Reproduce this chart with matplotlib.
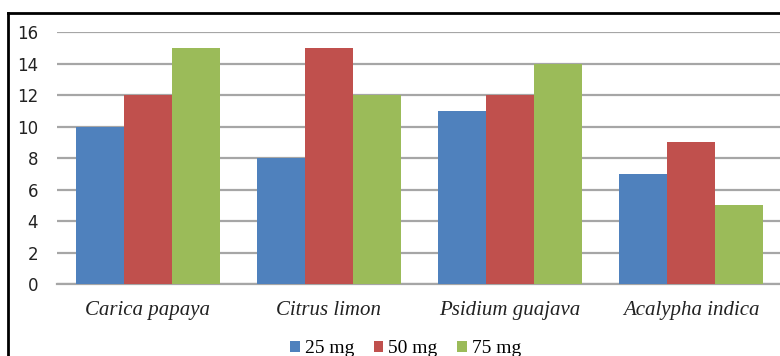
import numpy as np
import matplotlib
matplotlib.use("Agg")
import matplotlib.pyplot as plt
from matplotlib.lines import Line2D

species = ["Carica papaya", "Citrus limon", "Psidium guajava", "Acalypha indica"]
doses = ["25 mg", "50 mg", "75 mg"]
mg25 = [10, 8, 11, 7]
mg50 = [12, 15, 12, 9]
mg75 = [15, 12, 14, 5]
colors = ["#4F81BD", "#C0504D", "#9BBB59"]

fig = plt.figure(figsize=(7.8, 3.56), dpi=100)
ax = fig.add_axes([0.0737, 0.2022, 0.9282, 0.7078])

x = np.arange(len(species))
w = 0.265
for i, (vals, lab) in enumerate(zip([mg25, mg50, mg75], doses)):
    ax.bar(x + (i - 1) * w, vals, w, color=colors[i], label=lab, zorder=3)

ax.set_xlim(-0.5, 3.5)
ax.set_ylim(0, 16)
ax.set_yticks(range(0, 17, 2))
ax.yaxis.grid(True, color="#a6a6a6", linewidth=1.6, zorder=0)
for s in ["top", "right", "left"]:
    ax.spines[s].set_visible(False)
ax.spines["bottom"].set_color("#a6a6a6")
ax.spines["bottom"].set_linewidth(1.6)
ax.tick_params(axis="both", length=0)
ax.tick_params(axis="y", labelsize=12, pad=14, labelcolor="#222222")
ax.set_xticks(x)
ax.set_xticklabels(species, family="Liberation Serif", style="italic",
                   fontsize=15, color="#222222")
ax.tick_params(axis="x", pad=12)

fig.legend(loc="center", bbox_to_anchor=(0.52, 0.02), ncol=3, frameon=False,
           prop={"family": "Liberation Serif", "size": 14},
           handlelength=0.5, handleheight=0.5, handletextpad=0.25,
           columnspacing=1.0, borderpad=0)

# outer frame, only top and left edges fall inside the canvas
fig.add_artist(Line2D([8 / 780, 1.01], [1 - 13 / 356] * 2, color="black",
                      linewidth=2, transform=fig.transFigure))
fig.add_artist(Line2D([8 / 780] * 2, [-0.01, 1 - 13 / 356], color="black",
                      linewidth=2, transform=fig.transFigure))

fig.savefig("out.png", dpi=100)
